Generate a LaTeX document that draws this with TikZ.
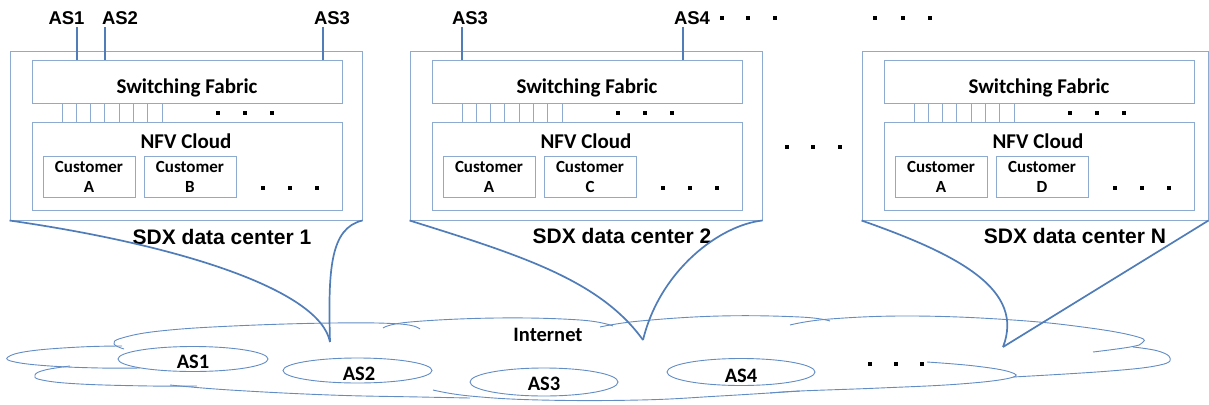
\documentclass[tikz,border=0pt]{standalone}
\usepackage{fontspec}
\setmainfont{Liberation Sans}
\newfontfamily\carl{Carlito}
\usetikzlibrary{fit,shapes.geometric}
\definecolor{boxc}{RGB}{141,170,208}
\definecolor{linkc}{RGB}{80,124,184}
\definecolor{cloudc}{RGB}{98,140,196}
\begin{document}
\begin{tikzpicture}[x=1pt,y=-1pt,
 box/.style={draw=boxc, line width=1pt, inner sep=0pt},
 port/.style={draw=boxc, line width=1pt},
 link/.style={draw=linkc, line width=1.7pt},
 cl/.style={draw=cloudc, line width=0.9pt},
 asell/.style={draw=cloudc, line width=0.9pt, ellipse, inner sep=0pt},
 dotsq/.style={fill=black, minimum size=3.6pt, inner sep=0pt},
 aslab/.style={font=\fontsize{18.5}{20}\selectfont\bfseries, anchor=base, inner sep=0pt},
 dclab/.style={font=\fontsize{21}{24}\selectfont\bfseries, anchor=base, inner sep=0pt},
 boxtxt/.style={font=\carl\fontsize{21}{22}\selectfont\bfseries, anchor=base, inner sep=0pt},
 cltxt/.style={font=\carl\fontsize{20.5}{22}\selectfont\bfseries, anchor=base, inner sep=0pt},
 custbox/.style={box, align=center, font=\carl\fontsize{17}{20}\selectfont\bfseries},
]
\useasboundingbox (0,0) rectangle (1209,404);

% data centres
\foreach \ox/\nm/\cu/\rr in {0/1/B/362, 400/2/C/762, 852/N/D/1208}{
  \node[box, fit={({10+\ox},52) (\rr,220)}] (dc\nm) {};
  \node[box, fit={({32+\ox},61) ({342+\ox},103)}] (sf\nm) {};
  \node[boxtxt] (sft\nm) at ({187+\ox},93) {Switching Fabric};
  \node[box, fit={({32+\ox},122) ({342+\ox},210)}] (nfv\nm) {};
  \node[boxtxt] (nft\nm) at ({186+\ox},148) {NFV Cloud};
  \node[custbox, minimum width=92pt, minimum height=41pt] (ca\nm) at ({89+\ox},176.5) {Customer\\A};
  \node[custbox, minimum width=92pt, minimum height=41pt] (cx\nm) at ({190+\ox},176.5) {Customer\\\cu};
  \foreach \k in {0,...,7}{
    \coordinate (pt\nm\k) at ({62+\ox+14.3*\k},103);
    \draw[port] (pt\nm\k |- sf\nm.south) -- (pt\nm\k |- nfv\nm.north);
  }
  \foreach \j/\px in {1/218,2/245,3/272} \node[dotsq] (pd\nm\j) at ({\px+\ox},113) {};
  \foreach \j/\px in {1/263,2/290,3/317} \node[dotsq] (cd\nm\j) at ({\px+\ox},188) {};
}

% AS labels on top
\node[aslab] (ta1) at (66.5,25) {AS1};
\node[aslab] (ta2) at (120,25) {AS2};
\node[aslab] (ta3) at (332,25) {AS3};
\node[aslab] (tb3) at (470,25) {AS3};
\node[aslab] (tb4) at (692,25) {AS4};
\foreach \c/\xx/\s in {l1/77/1, l2/105/1, l3/323/1, l4/462/2, l5/683/2}{
  \coordinate (\c) at (\xx,27);
  \draw[link, line width=1.2pt] (\c) -- (\c |- sf\s.north);
}
\foreach \j/\px in {1/722,2/748,3/775,4/875,5/903,6/930} \node[dotsq] (td\j) at (\px,18) {};
\foreach \j/\px in {1/787,2/813,3/840} \node[dotsq] (md\j) at (\px,147) {};

% data centre labels
\node[dclab] (lab1) at (222,244) {SDX data center 1};
\node[dclab] (lab2) at (622,243) {SDX data center 2};
\node[dclab] (labN) at (1075,243) {SDX data center N};

% cloud outline
\draw[cl] plot[smooth, tension=0.7] coordinates {(124,349) (114,344) (122,338) (160,331) (233,326) (333,323) (400,324) (420,329)};
\draw[cl] plot[smooth, tension=0.7] coordinates {(122,346) (80,347) (30,351) (8,357) (15,362) (50,366) (100,368) (140,368)};
\draw[cl] plot[smooth, tension=0.7] coordinates {(70,366) (45,370) (35,375) (42,380) (80,384) (150,386) (197,386)};
\draw[cl] plot[smooth, tension=0.7] coordinates {(170,385) (230,390) (330,395) (420,397) (470,398)};
\draw[cl] plot[smooth, tension=0.7] coordinates {(433,390) (470,396) (540,400) (640,400) (720,396) (800,391)};
\draw[cl] plot[smooth, tension=0.7] coordinates {(927,362) (975,366) (1010,372) (1010,378) (960,384) (880,388) (800,391) (770,393)};
\draw[cl] plot[smooth, tension=0.7] coordinates {(1133,347) (1158,351) (1170,358) (1160,365) (1110,371) (1013,377)};
\draw[cl] plot[smooth, tension=0.7] coordinates {(383,328) (410,322) (497,318) (580,320) (613,326)};
\draw[cl] plot[smooth, tension=0.7] coordinates {(600,327) (640,321) (720,316) (800,317) (830,321)};
\draw[cl] plot[smooth, tension=0.7] coordinates {(790,325) (830,319) (913,316) (1013,320) (1090,328) (1138,337) (1142,343) (1130,347) (1093,352)};

% AS ellipses
\node[asell, minimum width=150pt, minimum height=25pt] (as1) at (193,359) {};
\node[asell, minimum width=149pt, minimum height=25pt] (as2) at (357.5,370.5) {};
\node[asell, minimum width=148pt, minimum height=28pt] (as3) at (544,382) {};
\node[asell, minimum width=148pt, minimum height=27pt] (as4) at (741,372) {};
\node[cltxt] (as1t) at (193,368) {AS1};
\node[cltxt] (as2t) at (359,380) {AS2};
\node[cltxt] (as3t) at (544,390) {AS3};
\node[cltxt] (as4t) at (741,382) {AS4};
\node[cltxt] (inet) at (548,341) {Internet};
\foreach \j/\px in {1/870,2/896,3/922} \node[dotsq] (cdd\j) at (\px,364) {};

% connectors to the Internet
\coordinate (tip1) at (330,342);
\coordinate (tip2) at (643,340);
\coordinate (tipN) at (1003,347);
\draw[link] (dc1.south west) .. controls (180,245) and (320,290) .. (tip1);
\draw[link] (dc1.south east) .. controls (330,228) and (328,270) .. (tip1);
\draw[link] (dc2.south west) .. controls (520,255) and (600,280) .. (tip2);
\draw[link] (dc2.south east) .. controls (720,225) and (660,270) .. (tip2);
\draw[link] (dcN.south west) .. controls (960,255) and (1025,290) .. (tipN);
\draw[link] (dcN.south east) -- (tipN);
\end{tikzpicture}
\end{document}
